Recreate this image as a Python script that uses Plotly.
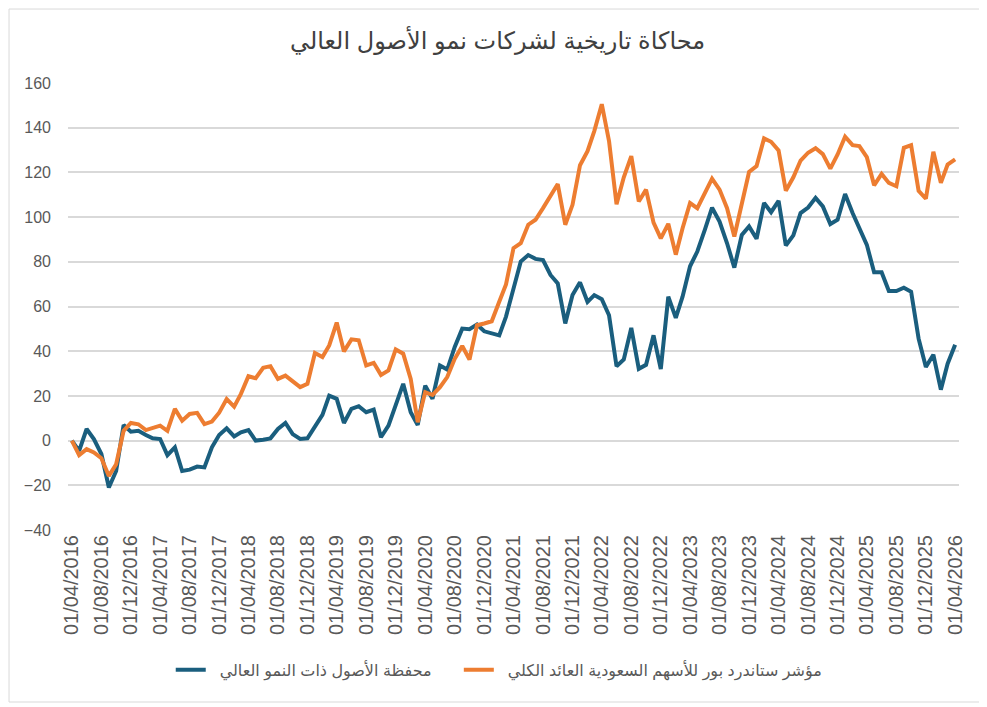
import pandas as pd
import plotly.graph_objects as go

# monthly dates, 01/04/2016 .. 01/04/2026
dates = pd.date_range("2016-04-01", "2026-04-01", freq="MS")

# محفظة الأصول ذات النمو العالي (blue)
growth = [
    0, -4.6, 5.2, 0.7, -6, -21, -13.6, 7, 4, 4.4,
    2.5, 1, 0.7, -6.5, -3, -13.6, -13, -11.6, -12, -3,
    2.5, 5.5, 1.9, 3.7, 4.7, 0, 0.4, 1, 5.2, 7.9,
    2.9, 0.7, 1, 5.9, 11.5, 20.1, 18.7, 7.9, 14.2, 15.4,
    12.7, 13.9, 1.5, 6.7, 16.4, 25.4, 12.7, 7, 24.6, 18.7,
    33.6, 31.8, 41.9, 50.1, 49.8, 51.9, 48.9, 47.9, 47.1, 55.5,
    68, 80.1, 83, 81.3, 80.8, 74.1, 70.3, 52.4, 65.1, 70.8,
    62.1, 65.1, 63.3, 56.1, 33.3, 36.3, 50.4, 32.1, 33.9, 47.1,
    32, 64.4, 54.9, 64.4, 78, 84.6, 94.3, 104.2, 98, 88.3,
    77.4, 92, 95.8, 90.3, 106.3, 102.2, 107.3, 87.3, 91.8, 101.8,
    104.3, 108.6, 104.8, 96.9, 98.8, 110.3, 101.8, 95.1, 87.6, 75.3,
    75.3, 66.9, 66.9, 68.4, 66.6, 45.6, 32.9, 38.4, 22.8, 34.4,
    42.9,
]

# مؤشر ستاندرد بور للأسهم السعودية العائد الكلي (orange)
index_tr = [
    0, -6.5, -3.8, -5.3, -7.9, -15.8, -10.6, 4.4, 7.9, 7.3,
    4.7, 5.6, 6.7, 4.4, 14.2, 8.9, 11.9, 12.4, 7.4, 8.5,
    12.5, 18.6, 15.2, 20.9, 28.8, 27.9, 32.6, 33.3, 27.6, 29.1,
    26.4, 23.9, 25.4, 39.2, 37.4, 42.6, 52.8, 39.9, 45.3, 44.9,
    33.6, 34.8, 29.4, 31.4, 40.8, 38.9, 27.6, 8.2, 21.7, 20.4,
    23.9, 28.4, 36.6, 42.3, 36.3, 51.6, 52.4, 53.4, 62.1, 69.9,
    86.1, 88.3, 96.6, 98.8, 104, 109.3, 114.8, 96.6, 105.5, 123.2,
    129.5, 138.5, 150.5, 134, 105.8, 117.8, 127.3, 107, 112.3, 97.5,
    90.5, 97, 83.2, 95, 106.3, 104, 110.8, 117.2, 112.3, 104,
    91.3, 106.3, 120.2, 122.8, 135.2, 133.7, 129.8, 111.8, 117.8, 125.3,
    128.8, 130.8, 128.2, 121.7, 128, 136, 132.2, 131.8, 126.8, 114.2,
    119.3, 115.3, 113.8, 131, 132.2, 111.8, 108.2, 129.2, 115.3, 123.5,
    125.8,
]

name_growth = "محفظة الأصول ذات النمو العالي"
name_index = "مؤشر ستاندرد بور للأسهم السعودية العائد الكلي"
title = "محاكاة تاريخية لشركات نمو الأصول العالي"

font_family = "Liberation Sans, Arial, DejaVu Sans, sans-serif"
grey = "#595959"
grid = "#d9d9d9"
nb = "\u00a0"  # non-breaking spaces pad the legend entries

fig = go.Figure()
fig.add_trace(go.Scatter(x=dates, y=growth, name=nb * 2 + name_growth + nb * 5,
                         mode="lines", line=dict(color="#1a5e7e", width=4)))
fig.add_trace(go.Scatter(x=dates, y=index_tr, name=nb * 2 + name_index,
                         mode="lines", line=dict(color="#ed7d31", width=4)))

# the page puts the figure 8px in from the corner, so size/margins allow for it
fig.update_layout(
    width=979, height=699,
    margin=dict(l=60, r=28, t=75, b=177),
    paper_bgcolor="white", plot_bgcolor="white",
    font=dict(family=font_family, color=grey, size=16),
    title=dict(text=title, x=0.5, xanchor="center", y=0.954, yanchor="middle",
               font=dict(size=24, color="#404040")),
    legend=dict(orientation="h", x=0.484, xanchor="center", y=-0.313,
                yanchor="middle", font=dict(size=16, color=grey),
                traceorder="normal"),
    showlegend=True,
)
fig.update_xaxes(
    type="date", range=["2016-03-16", "2026-04-17"],
    tick0="2016-04-01", dtick="M4", tickformat="%d/%m/%Y",
    tickangle=-90, showgrid=False, showline=False, zeroline=False,
    ticks="", tickfont=dict(size=20, color=grey),
)
fig.update_yaxes(
    range=[-40, 160], dtick=20, showgrid=True, gridcolor=grid, gridwidth=1.5,
    zeroline=True, zerolinecolor=grid, zerolinewidth=1.5,
    ticks="", ticklabelstandoff=16, tickfont=dict(size=16, color=grey),
)
# outer chart border
fig.add_shape(type="rect", xref="paper", yref="paper",
              x0=-0.0662, x1=1.0258, y0=-0.3848, y1=1.1655,
              line=dict(color=grid, width=1), layer="below")

fig.write_html("out.html")
